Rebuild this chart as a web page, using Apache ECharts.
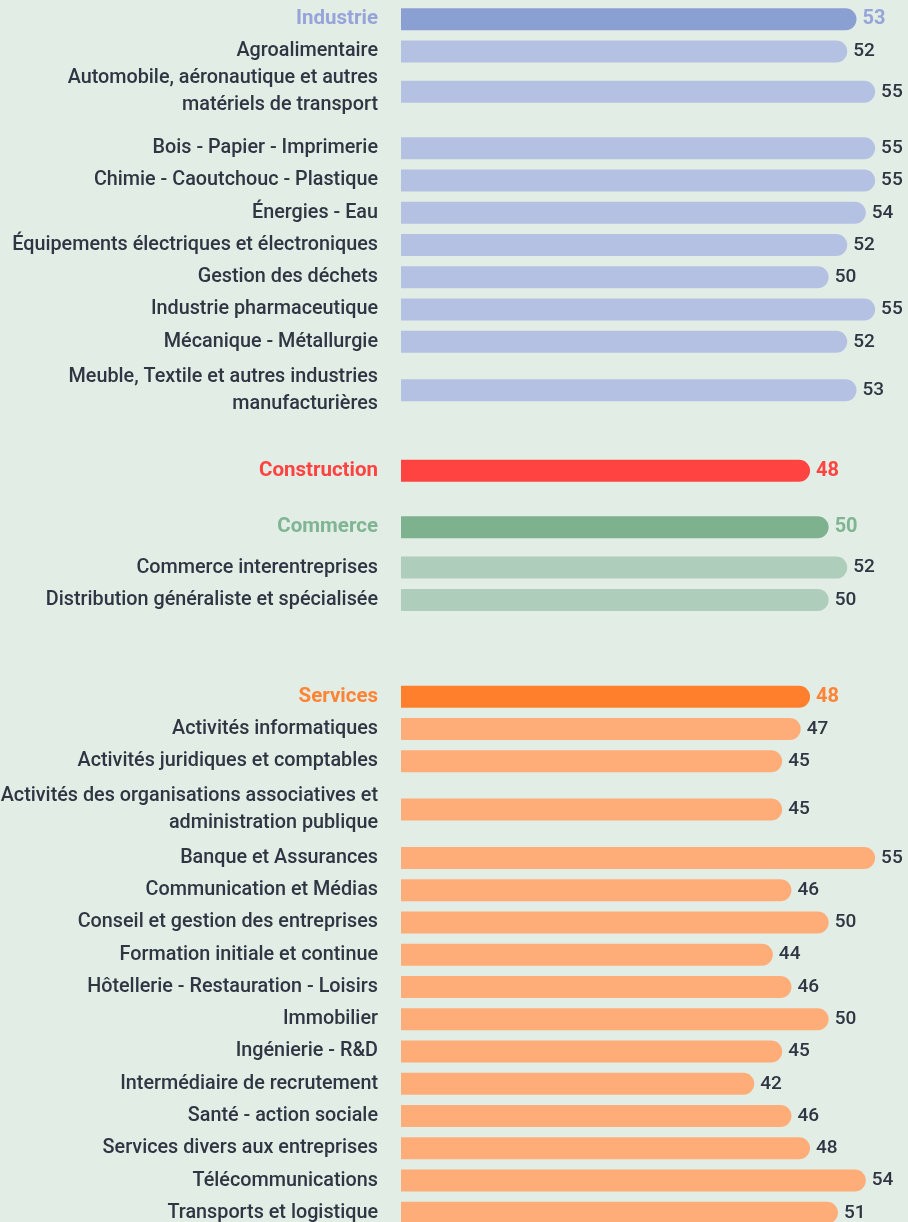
<!DOCTYPE html>
<html>
<head>
<meta charset="utf-8">
<script src="https://cdn.jsdelivr.net/npm/echarts@6/dist/echarts.min.js"></script>
<style>
  html, body { margin: 0; padding: 0; background: #e2ede5; }
  #chart { width: 908px; height: 1222px; }
</style>
</head>
<body>
<div id="chart"></div>
<script>
(function () {
  'use strict';

  // sector headers and their scores
  const sectorNames = ['Industrie', 'Construction', 'Commerce', 'Services'];
  const sectorValues = [53, 48, 50, 48];

  const industrieCats = [
    'Agroalimentaire',
    'Automobile, aéronautique et autres\nmatériels de transport',
    'Bois - Papier - Imprimerie',
    'Chimie - Caoutchouc - Plastique',
    'Énergies - Eau',
    'Équipements électriques et électroniques',
    'Gestion des déchets',
    'Industrie pharmaceutique',
    'Mécanique - Métallurgie',
    'Meuble, Textile et autres industries\nmanufacturières'
  ];
  const industrieValues = [52, 55, 55, 55, 54, 52, 50, 55, 52, 53];

  const constructionCats = [];
  const constructionValues = [];

  const commerceCats = [
    'Commerce interentreprises',
    'Distribution généraliste et spécialisée'
  ];
  const commerceValues = [52, 50];

  const servicesCats = [
    'Activités informatiques',
    'Activités juridiques et comptables',
    'Activités des organisations associatives et\nadministration publique',
    'Banque et Assurances',
    'Communication et Médias',
    'Conseil et gestion des entreprises',
    'Formation initiale et continue',
    'Hôtellerie - Restauration - Loisirs',
    'Immobilier',
    'Ingénierie - R&D',
    'Intermédiaire de recrutement',
    'Santé - action sociale',
    'Services divers aux entreprises',
    'Télécommunications',
    'Transports et logistique'
  ];
  const servicesValues = [47, 45, 45, 55, 46, 50, 44, 46, 50, 45, 42, 46, 48, 54, 51];

  // layout: quarter-row steps before each row (spacing only)
  const rowStep = [2, 4, 5, 7, 4, 4, 4, 4, 4, 4, 6,
                   10,
                   7, 5, 4,
                   12, 4, 4, 6, 6, 4, 4, 4, 4, 4, 4, 4, 4, 4, 4, 4];
  const trailSlots = 3;

  const palette = {
    Industrie: { head: '#8a9fd2', sub: '#b5c1e3', text: '#97a4da' },
    Construction: { head: '#ff4340', sub: '#ff4340', text: '#ff4340' },
    Commerce: { head: '#7eb28f', sub: '#aecdbb', text: '#7fb593' },
    Services: { head: '#ff7f2c', sub: '#ffad78', text: '#ff8436' }
  };
  const darkText = '#2f3542';

  const groups = [
    [industrieCats, industrieValues],
    [constructionCats, constructionValues],
    [commerceCats, commerceValues],
    [servicesCats, servicesValues]
  ];

  const rows = [];
  sectorNames.forEach((name, g) => {
    rows.push({ label: name, value: sectorValues[g], sector: name, head: true });
    groups[g][0].forEach((c, i) => {
      rows.push({ label: c, value: groups[g][1][i], sector: name, head: false });
    });
  });

  let slot = 0;
  const slotRow = {};
  rows.forEach((r, i) => {
    slot += rowStep[i];
    slotRow[slot] = r;
  });
  const nSlots = slot + trailSlots;
  const slotSize = 8.065;

  const yData = [];
  const barData = [];
  for (let i = 0; i < nSlots; i++) {
    yData.push('s' + i);
    const r = slotRow[i];
    if (!r) { barData.push('-'); continue; }
    const pal = palette[r.sector];
    barData.push({
      value: r.value,
      itemStyle: { color: r.head ? pal.head : pal.sub },
      label: {
        color: r.head ? pal.text : darkText,
        fontWeight: r.head ? 'bold' : 500,
        fontSize: r.head ? 20 : 19
      }
    });
  }

  const rich = {};
  sectorNames.forEach(n => {
    rich[n] = { color: palette[n].text, fontWeight: 'bold', fontSize: 20.5, fontFamily: 'Roboto' };
  });

  const chart = echarts.init(document.getElementById('chart'));
  chart.setOption({
    backgroundColor: '#e2ede5',
    animation: false,
    grid: {
      outerBoundsMode: 'none',
      left: 401,
      right: 5,
      top: 19.2 - slotSize * (rowStep[0] + 0.5),
      height: slotSize * nSlots
    },
    xAxis: {
      type: 'value',
      min: 4,
      max: 58,
      show: false
    },
    yAxis: {
      type: 'category',
      inverse: true,
      data: yData,
      axisLine: { show: false },
      axisTick: { show: false },
      splitLine: { show: false },
      axisLabel: {
        interval: 0,
        margin: 23,
        fontFamily: 'Roboto',
        fontSize: 19.8,
        fontWeight: 500,
        lineHeight: 27,
        color: darkText,
        rich: rich,
        formatter: function (v, idx) {
          const r = slotRow[idx];
          if (!r) return '';
          return r.head ? '{' + r.sector + '|' + r.label + '}' : r.label;
        }
      }
    },
    series: [{
      type: 'bar',
      data: barData,
      barWidth: 22,
      clip: true,
      itemStyle: { borderRadius: [0, 11, 11, 0] },
      label: {
        show: true,
        position: 'right',
        distance: 6,
        fontFamily: 'Roboto'
      }
    }]
  });

  window.addEventListener('resize', () => chart.resize());
})();
</script>
</body>
</html>
